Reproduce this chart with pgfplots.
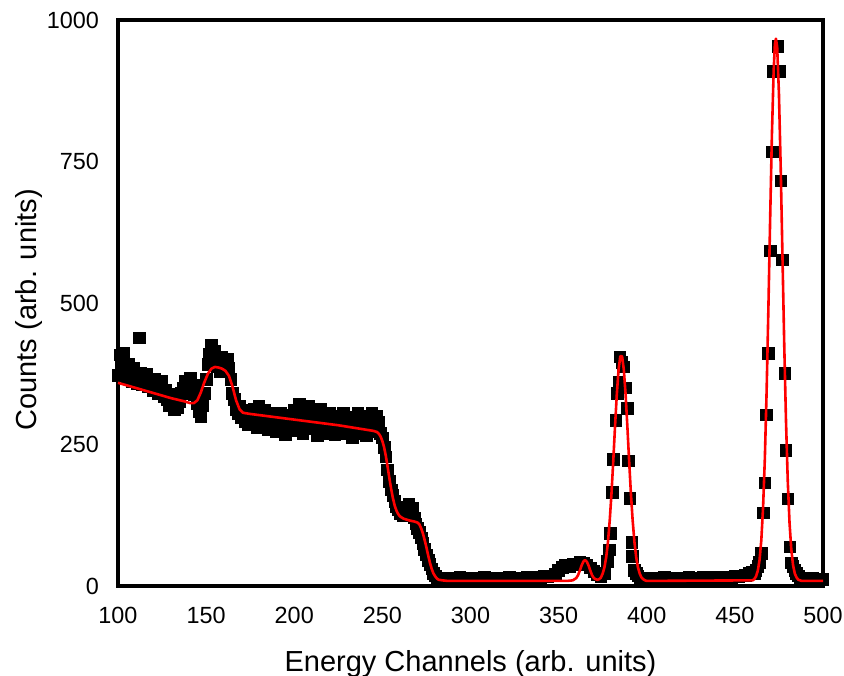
\documentclass[border=0pt]{standalone}
\usepackage{fontspec}
\setmainfont{Liberation Sans}
\usepackage{pgfplots}
\pgfplotsset{compat=1.18}
\begin{document}
\begin{tikzpicture}
\begin{axis}[
  scale only axis, width=352.5pt, height=283pt,
  xmin=100, xmax=500, ymin=0, ymax=1000,
  xtick={100,150,...,500}, ytick={0,250,500,750,1000},
  major tick length=0pt,
  axis line style={line width=2pt},
  clip=false, clip marker paths=true,
  /pgf/number format/assume math mode=true,
  /pgf/number format/1000 sep={},
  tick label style={font=\fontsize{11.7}{14}\selectfont},
  xticklabel style={yshift=-7pt},
  yticklabel style={xshift=-6pt},
  label style={font=\fontsize{14.5}{17}\selectfont},
  xlabel={Energy Channels (arb. units)},
  ylabel={Counts (arb. units)},
  xlabel style={at={(axis description cs:0.5,-0.1512)}, anchor=base},
  ylabel style={at={(axis description cs:-0.1149,0.488)}, anchor=base},
]
\addplot[only marks, mark=square*, mark size=2.9pt, black] coordinates {
(100,372)(101,408)(102,395)(103,412)(104,380)(105,368)(106,392)(107,375)(108,362)(109,385)
(110,370)(111,358)(112,438)(113,376)(114,355)(115,368)(116,375)(117,352)(118,365)(119,358)
(120,345)(121,366)(122,356)(123,340)(124,352)(125,362)(126,335)(127,346)(128,330)(129,318)
(130,338)(131,322)(132,312)(133,330)(134,315)(135,325)(136,340)(137,350)(138,362)(139,345)
(140,358)(141,368)(142,350)(143,338)(144,355)(145,322)(146,308)(147,300)(148,318)(149,340)
(150,365)(151,392)(152,410)(153,425)(154,398)(155,415)(156,388)(157,402)(158,378)(159,405)
(160,392)(161,380)(162,400)(163,385)(164,365)(165,340)(166,330)(167,312)(168,305)(169,318)
(170,298)(171,310)(172,290)(173,302)(174,285)
(175,305)(176,288)(177,312)(178,296)(179,280)(180,318)(181,300)(182,285)(183,310)(184,292)
(185,276)(186,305)(187,297)(188,283)(189,300)(190,272)(191,290)(192,306)(193,278)(194,295)
(195,268)(196,288)(197,302)(198,275)(199,292)(200,310)(201,282)(202,296)(203,322)(204,288)
(205,270)(206,300)(207,285)(208,318)(209,293)(210,278)(211,305)(212,290)(213,265)(214,298)
(215,312)(216,284)(217,270)(218,296)(219,288)(220,305)(221,275)(222,292)(223,268)(224,300)
(225,285)(226,295)(227,272)(228,306)(229,283)(230,270)(231,298)(232,288)(233,262)(234,295)
(235,280)(236,305)(237,290)(238,270)(239,300)(240,285)(241,266)(242,298)(243,280)(244,305)
(245,290)(246,272)(247,300)(248,290)(249,270)
(250,262)(251,245)(252,228)(253,205)(254,185)(255,170)(256,160)(257,150)(258,140)(259,135)
(260,128)(261,132)(262,125)(263,140)(264,130)(265,145)(266,125)(267,138)(268,120)(269,110)
(270,102)(271,95)(272,85)(273,75)(274,65)(275,55)(276,45)(277,38)(278,30)(279,22)
(280,18)(281,14)(282,12)(283,10)(284,11)
(286,14)(288,11)(290,13)(292,10)(294,15)(296,12)(298,11)(300,14)(302,12)(304,10)
(306,13)(308,15)(310,11)(312,12)(314,14)(316,10)(318,13)(320,12)(322,15)(324,11)
(326,13)(328,12)(330,14)(332,15)(334,13)(336,16)(338,14)(340,15)(342,17)(344,16)
(346,18)(348,20)(350,28)(352,33)(354,36)(356,35)(358,39)(360,38)(362,42)(364,40)
(366,37)(368,32)(370,26)(372,20)(374,17)(376,22)
(377.8,43)(378.7,64)(379.5,93)(380.5,165)(381.0,224)(382.6,293)(383.3,340)(384.2,360)(384.8,405)(385.8,395)
(386.7,387)(388.2,350)(389.0,314)(389.6,221)(390.5,155)(391.5,77)(392.0,52)(393.0,28)(394,22)(395,18)
(396,14)(398,13)(400,12)(402,14)(404,11)(406,13)(408,12)(410,15)(412,11)(414,13)
(416,12)(418,14)(420,11)(422,13)(424,15)(426,12)(428,14)(430,13)(432,15)(434,12)
(436,14)(438,16)(440,13)(442,15)(444,14)(446,16)(448,15)(450,17)(452,16)(454,18)
(456,19)(458,22)(460,24)(461,22)(462,28)(463,35)(464,42)
(465.2,58)(466.1,129)(467.1,182)(468.0,302)(469.0,411)(470.3,592)(471.3,767)(471.8,909)(474.3,953)(475.2,909)
(476.2,716)(477.1,576)(478.4,376)(479.0,240)(480.0,154)(481.3,69)(482.2,41)(483,35)(484,28)(485,22)
(486,18)(487,14)(488,13)(490,12)(492,11)(494,13)(496,12)(498,11)(500,12)
};
\addplot[red, line width=1.3pt, line join=round] coordinates {
(100,359)(110,350)(120,341)(130,332)(138,326)(141,323)(143,323)(145,328)(147,342)(149,360)
(151,375)(153,384)(155,387)(157,386)(159,384)(161,380)(163,371)(165,352)(167,328)(169,312)
(171,306)(175,304)(200,294)(225,284)(245,274)(247,272)(248,269)(249,264)(250,256)(251,245)
(252,229)(253,210)(254,190)(255,171)(256,155)(257,142)(258,133)(259,127)(260,123)(262,119)
(265,116)(268,114)(270,112)(271,109)(272,102)(273,93)(274,81)(275,68)(276,54)(277,41)
(278,30)(279,22)(280,17)(281,13)(282,11)(284,10)(287,9)(355,9)(358,10)(360,14)
(361,19)(362,27)(363,36)(364,43)(365,46)(366,43)(367,36)(368,27)(369,19)(370,14)
(371,12)(372,11)(373,12)(374,15)(375,22)(376,33)(377,51)(378,78)(379,116)(380,164)
(381,221)(382,282)(383,338)(384,382)(385,406)(386,406)(387,382)(388,338)(389,282)(390,221)
(391,164)(392,116)(393,78)(394,51)(395,33)(396,22)(397,15)(398,12)(399,10)(400,9)
(460,10)(461,12)(462,17)(463,27)(464,46)(465,81)(466,139)(467,225)(468,343)(469,488)
(470,647)(471,796)(472,910)(472.7,957)(473.3,967)(474,952)(475,870)(476,739)(477,583)(478,427)
(479,292)(480,186)(481,112)(482,65)(483,37)(484,22)(485,15)(486,11)(488,9)(500,9)
};
\end{axis}
\pgfresetboundingbox
\path[use as bounding box] ([shift={(-59pt,-44.5pt)}]current axis.south west) rectangle ([shift={(10.5pt,10pt)}]current axis.north east);
\end{tikzpicture}
\end{document}
